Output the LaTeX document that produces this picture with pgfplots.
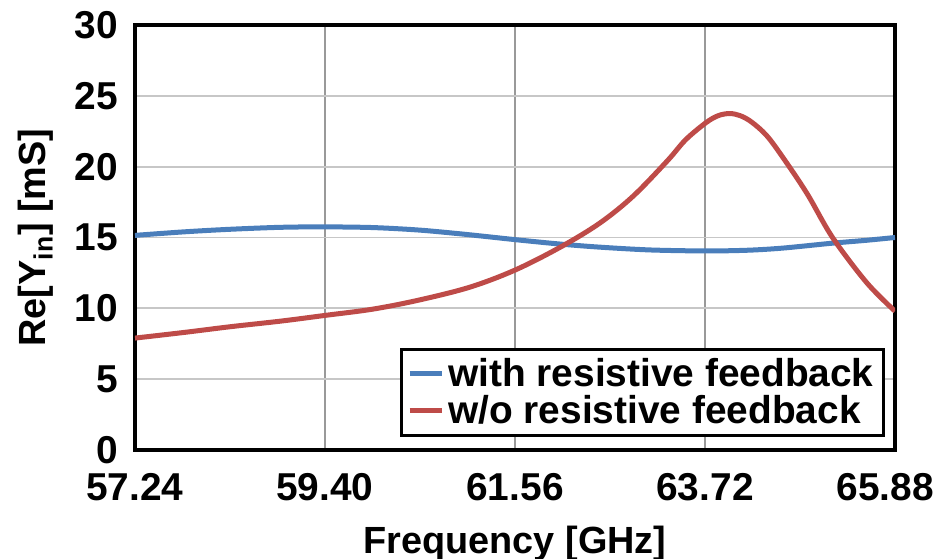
\documentclass[border=0pt]{standalone}
\usepackage{fontspec}
\setmainfont{Liberation Sans}
\usepackage{pgfplots}
\pgfplotsset{compat=1.18}
\definecolor{serblue}{HTML}{4A7EBB}
\definecolor{serred}{HTML}{BE4B48}
\begin{document}
\begin{tikzpicture}
\begin{axis}[
  scale only axis,
  width=380bp, height=212.5bp,
  xmin=57.24, xmax=65.88, ymin=0, ymax=30,
  xtick={57.24,59.40,61.56,63.72,65.88},
  xticklabels={57.24,59.40,61.56,63.72,\hspace*{-10bp}65.88},
  ytick={0,5,...,30},
  major tick length=0pt,
  grid=major,
  x grid style={draw=black!40, line width=0.7bp},
  y grid style={draw=black!22, line width=0.9bp},
  axis line style={line width=2bp},
  font=\fontsize{19}{22}\selectfont\bfseries,
  tick label style={font=\fontsize{19.5}{22}\selectfont\bfseries},
  /pgf/number format/assume math mode=true,
  xticklabel style={yshift=-8bp},
  yticklabel style={xshift=-5bp},
  xlabel={Frequency [GHz]},
  ylabel={Re[Y\textsubscript{in}] [mS]},
  xlabel style={yshift=-6bp},
  ylabel style={yshift=4bp},
  legend style={at={(rel axis cs:0.987,0.031)}, anchor=south east,
    draw=black, line width=1.5bp, inner xsep=3bp, inner ysep=2.5bp,
    font=\fontsize{19.5}{22}\selectfont\bfseries,
    row sep=-1bp},
  legend cell align=left,
  legend image code/.code={\draw[#1, line width=2.5bp] (0bp,0bp) -- (16bp,0bp);},
]
\addplot[serblue, line width=2.5bp, smooth] coordinates {
  (57.24,15.15) (57.80,15.40) (58.32,15.58) (58.90,15.72) (59.40,15.75)
  (59.95,15.70) (60.48,15.52) (61.00,15.22) (61.56,14.85) (62.05,14.55)
  (62.52,14.32) (63.10,14.12) (63.73,14.05) (64.20,14.10) (64.60,14.25)
  (65.17,14.60) (65.55,14.80) (65.88,15.00)
};
\addlegendentry{with resistive feedback}
\addplot[serred, line width=2.5bp, smooth, tension=0.55] coordinates {
  (57.24,7.9) (57.80,8.3) (58.32,8.7) (58.90,9.1) (59.40,9.5) (59.95,9.95)
  (60.48,10.6) (61.05,11.5) (61.56,12.7) (62.07,14.3) (62.52,16.0)
  (62.90,17.9) (63.29,20.4) (63.50,21.9) (63.73,23.1) (63.87,23.6)
  (64.00,23.75) (64.12,23.6) (64.25,23.15) (64.42,22.2) (64.60,20.7)
  (64.88,18.1) (65.17,15.0) (65.56,11.8) (65.88,9.8)
};
\addlegendentry{w/o resistive feedback}
\end{axis}
\pgfresetboundingbox
\useasboundingbox ([shift={(-67.5bp,-54.5bp)}]current axis.south west)
  rectangle ([shift={(21.5bp,12.5bp)}]current axis.north east);
\end{tikzpicture}
\end{document}
